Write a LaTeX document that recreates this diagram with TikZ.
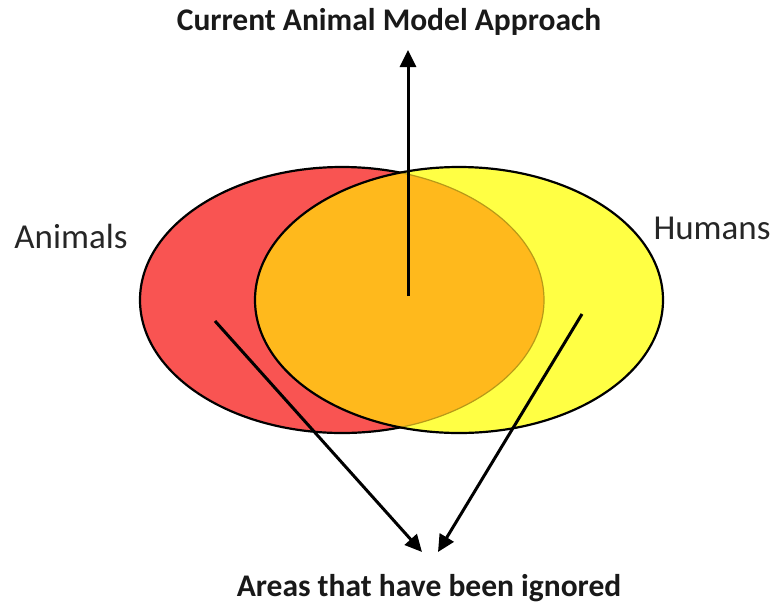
\documentclass[tikz,border=0pt]{standalone}
\usepackage{fontspec}
\setmainfont{Carlito}
\usetikzlibrary{arrows.meta}
\definecolor{redfill}{HTML}{F95452}
\definecolor{yelfill}{HTML}{FFFF44}
\definecolor{orafill}{HTML}{FFB91C}
\definecolor{olive}{HTML}{B89A18}
\begin{document}
\begin{tikzpicture}[x=1pt,y=-1pt,
  outline/.style={draw=black,line width=2.2pt},
  conn/.style={line width=3pt,-{Triangle[length=17pt,width=16pt]}},
  lbl/.style={font=\fontsize{35}{40}\selectfont,text=black!85},
  ttl/.style={font=\bfseries\fontsize{31.5}{36}\selectfont,text=black!90}]
\useasboundingbox (0,0) rectangle (778,613);
% red ellipse
\fill[redfill] (342,300) ellipse [x radius=202, y radius=133];
\draw[outline] (342,300) ellipse [x radius=202, y radius=133];
% yellow ellipse
\fill[yelfill] (459,300) ellipse [x radius=204, y radius=133];
\begin{scope}
  \clip (342,300) ellipse [x radius=202, y radius=133];
  \fill[orafill] (459,300) ellipse [x radius=204, y radius=133];
\end{scope}
\begin{scope}
  \clip (459,300) ellipse [x radius=204, y radius=133];
  \draw[olive,line width=1.2pt] (342,300) ellipse [x radius=202, y radius=133];
\end{scope}
\draw[outline] (459,300) ellipse [x radius=204, y radius=133];
% labels
\node[ttl] (top) at (389,22) {Current Animal Model Approach};
\node[ttl] (bot) at (429,588) {Areas that have been ignored};
\node[lbl] (ani) at (71,236) {Animals};
\node[lbl] (hum) at (712,228) {Humans};
% arrows
\coordinate (c0) at (408,296);
\coordinate (c1) at (408,50);
\coordinate (l0) at (215,321);
\coordinate (l1) at (422,552);
\coordinate (r0) at (582,314);
\coordinate (r1) at (438,552);
\draw[conn] (c0) -- (c1);
\draw[conn] (l0) -- (l1);
\draw[conn] (r0) -- (r1);
\end{tikzpicture}
\end{document}
